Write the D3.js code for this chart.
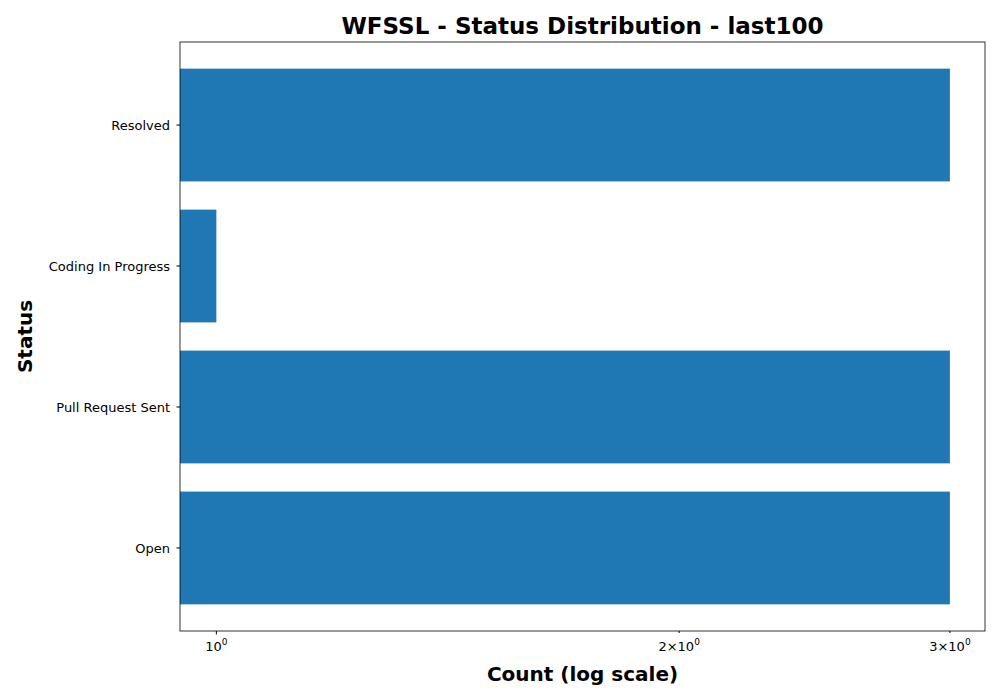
<!DOCTYPE html>
<html><head><meta charset="utf-8">
<script src="https://cdn.jsdelivr.net/npm/d3@7"></script>
<style>body{margin:0;background:#fff}text{font-family:"DejaVu Sans",sans-serif}</style>
</head><body>
<svg id="c" width="1000" height="700"></svg>
<script>
const categories = ["Open","Pull Request Sent","Coding In Progress","Resolved"];
const counts = [3,3,1,3];
const tickValues = [1,2,3];
const tickMant = ["","2","3"];

const svg = d3.select("#c");
const L=180,R=985,T=42,B=631;
const x = d3.scaleLog().domain([0.947,3.162]).range([L,R]);
const y = d3.scaleBand().domain(categories.slice().reverse()).range([T,B]).paddingInner(0.2).paddingOuter(0.189);

svg.selectAll("rect.bar").data(categories).enter().append("rect")
  .attr("x",L).attr("y",d=>y(d)).attr("height",y.bandwidth())
  .attr("width",(d,i)=>x(counts[i])-L).attr("fill","#1f77b4");

svg.append("rect").attr("x",L).attr("y",T).attr("width",R-L).attr("height",B-T)
  .attr("fill","none").attr("stroke","#000").attr("stroke-width",0.8);

// y ticks
categories.forEach(c=>{
  const cy=y(c)+y.bandwidth()/2;
  svg.append("line").attr("x1",L-3.5).attr("x2",L).attr("y1",cy).attr("y2",cy).attr("stroke","#000");
  svg.append("text").attr("x",L-10).attr("y",cy).attr("dy","0.35em").attr("text-anchor","end")
    .attr("font-size",13).text(c);
});
// x ticks
tickValues.forEach((v,i)=>{
  const px=x(v);
  svg.append("line").attr("x1",px).attr("x2",px).attr("y1",B).attr("y2",B+(i===0?3.5:2)).attr("stroke","#000");
  const t=svg.append("text").attr("x",px).attr("y",B+20).attr("text-anchor","middle").attr("font-size",13);
  if(tickMant[i]) t.append("tspan").text(tickMant[i]+"\u00d710");
  else t.append("tspan").text("10");
  t.append("tspan").attr("dy",-6).attr("font-size",9).text("0");
});

svg.append("text").attr("x",(L+R)/2).attr("y",681).attr("text-anchor","middle")
  .attr("font-size",20).attr("font-weight","bold").text("Count (log scale)");
svg.append("text").attr("transform",`translate(32,${(T+B)/2}) rotate(-90)`).attr("text-anchor","middle")
  .attr("font-size",20).attr("font-weight","bold").text("Status");
svg.append("text").attr("x",(L+R)/2).attr("y",34).attr("text-anchor","middle")
  .attr("font-size",23).attr("font-weight","bold").text("WFSSL - Status Distribution - last100");
</script>
</body></html>
